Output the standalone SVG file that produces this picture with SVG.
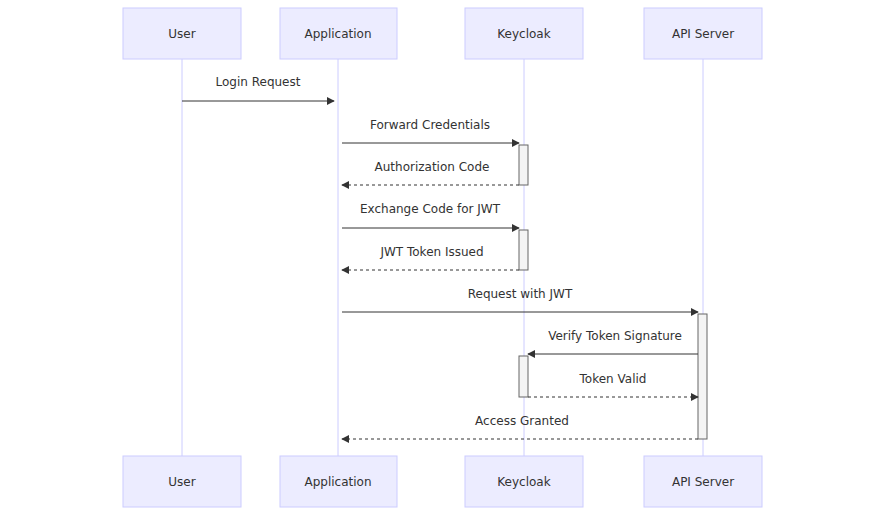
<svg xmlns="http://www.w3.org/2000/svg" width="885" height="515" viewBox="0 0 885 515">
<style>
.actor{fill:#ECECFF;stroke:#CCCCFF;stroke-width:1}
.at{font-family:"DejaVu Sans",sans-serif;font-size:12px;fill:#333;text-anchor:middle;dominant-baseline:central}
.life{stroke:#CCCCFF;stroke-width:1}
.msg{stroke:#333;stroke-width:1;fill:none;marker-end:url(#ah)}
.dash{stroke-dasharray:3,3}
.ml{font-family:"DejaVu Sans",sans-serif;font-size:12px;fill:#333;text-anchor:middle}
.act{fill:#F4F4F4;stroke:#666;stroke-width:1}
</style>
<defs><marker id="ah" viewBox="0 0 10 10" refX="9" refY="5" markerWidth="8" markerHeight="8" orient="auto-start-reverse"><path d="M0,0L10,5L0,10z" fill="#333"/></marker></defs>
<rect width="885" height="515" fill="#fff"/>
<g id="lifelines">
<line class="life" x1="182" y1="59" x2="182" y2="456"/>
<line class="life" x1="338" y1="59" x2="338" y2="456"/>
<line class="life" x1="524" y1="59" x2="524" y2="456"/>
<line class="life" x1="703" y1="59" x2="703" y2="456"/>
</g>
<g id="user"><rect class="actor" x="123" y="8" width="118" height="51"/><text class="at" x="182" y="34">User</text><rect class="actor" x="123" y="456" width="118" height="51"/><text class="at" x="182" y="482">User</text></g>
<g id="application"><rect class="actor" x="280" y="8" width="117" height="51"/><text class="at" x="338" y="34">Application</text><rect class="actor" x="280" y="456" width="117" height="51"/><text class="at" x="338" y="482">Application</text></g>
<g id="keycloak"><rect class="actor" x="465" y="8" width="118" height="51"/><text class="at" x="524" y="34">Keycloak</text><rect class="actor" x="465" y="456" width="118" height="51"/><text class="at" x="524" y="482">Keycloak</text></g>
<g id="apiserver"><rect class="actor" x="644" y="8" width="118" height="51"/><text class="at" x="703" y="34">API Server</text><rect class="actor" x="644" y="456" width="118" height="51"/><text class="at" x="703" y="482">API Server</text></g>
<g id="activations">
<rect class="act" x="519" y="145" width="9" height="40"/>
<rect class="act" x="519" y="230" width="9" height="40"/>
<rect class="act" x="698" y="314" width="9" height="125"/>
<rect class="act" x="519" y="356" width="9" height="41"/>
</g>
<g id="connectors">
<line class="msg" x1="182" y1="101" x2="334" y2="101"/><text class="ml" x="258" y="86">Login Request</text>
<line class="msg" x1="342" y1="143" x2="519" y2="143"/><text class="ml" x="430" y="129">Forward Credentials</text>
<line class="msg dash" x1="519" y1="185" x2="342" y2="185"/><text class="ml" x="432" y="171">Authorization Code</text>
<line class="msg" x1="342" y1="228" x2="519" y2="228"/><text class="ml" x="430" y="213">Exchange Code for JWT</text>
<line class="msg dash" x1="519" y1="270" x2="342" y2="270"/><text class="ml" x="432" y="256">JWT Token Issued</text>
<line class="msg" x1="342" y1="312" x2="698" y2="312"/><text class="ml" x="520" y="298">Request with JWT</text>
<line class="msg" x1="698" y1="354" x2="528" y2="354"/><text class="ml" x="615" y="340">Verify Token Signature</text>
<line class="msg dash" x1="528" y1="397" x2="698" y2="397"/><text class="ml" x="613" y="383">Token Valid</text>
<line class="msg dash" x1="698" y1="439" x2="342" y2="439"/><text class="ml" x="522" y="425">Access Granted</text>
</g>
</svg>
